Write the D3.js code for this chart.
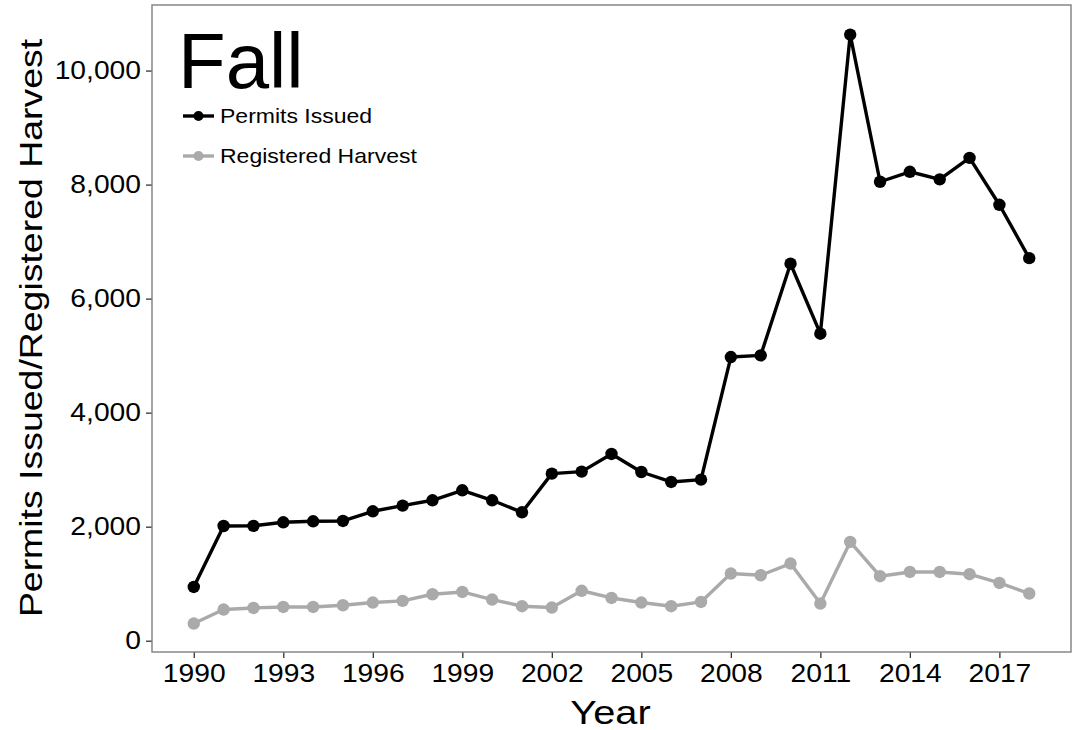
<!DOCTYPE html>
<html>
<head>
<meta charset="utf-8">
<script src="https://cdn.jsdelivr.net/npm/d3@7"></script>
<style>
  body { margin: 0; background: #fff; }
  text { font-family: "Liberation Sans", Arial, sans-serif; fill: #000; }
</style>
</head>
<body>
<div id="chart"></div>
<script>
// data
const years = d3.range(1990, 2019);
const permitsIssued = [943, 2012, 2015, 2077, 2095, 2100, 2270, 2370, 2463, 2638,
  2463, 2252, 2930, 2966, 3275, 2959, 2784, 2826, 4975, 5004,
  6612, 5385, 10631, 8050, 8225, 8092, 8468, 7646, 6710];
const registeredHarvest = [301, 547, 575, 592, 592, 622, 670, 698, 815, 855,
  722, 605, 582, 876, 750, 670, 605, 680, 1178, 1148,
  1353, 652, 1732, 1131, 1206, 1206, 1166, 1013, 828];
const xTicks = [1990, 1993, 1996, 1999, 2002, 2005, 2008, 2011, 2014, 2017];
const yTicks = [0, 2000, 4000, 6000, 8000, 10000];

const series = [
  { name: 'Permits Issued', values: permitsIssued, color: '#000000' },
  { name: 'Registered Harvest', values: registeredHarvest, color: '#aaaaaa' }
];

const width = 1075, height = 730;
const panel = { left: 152, right: 1071, top: 5, bottom: 652 };
// the original image is a bit wider than tall, so text gets stretched
const sx = 1.13;

const svg = d3.select('#chart').append('svg')
  .attr('width', width)
  .attr('height', height);

const x = d3.scaleLinear().domain([1988.6, 2019.4]).range([panel.left, panel.right]);
const y = d3.scaleLinear().domain([-198, 11150]).range([panel.bottom, panel.top]);

// axes
const xAxis = svg.append('g')
  .attr('transform', `translate(0,${panel.bottom})`)
  .call(d3.axisBottom(x).tickValues(xTicks).tickFormat(d3.format('d')).tickSize(6).tickPadding(6));
const yAxis = svg.append('g')
  .attr('transform', `translate(${panel.left},0)`)
  .call(d3.axisLeft(y).tickValues(yTicks).tickFormat(d3.format(',')).tickSize(6).tickPadding(5));

[xAxis, yAxis].forEach(g => {
  g.select('.domain').remove();
  g.selectAll('.tick line').attr('stroke', '#333').attr('stroke-width', 1.3);
  g.selectAll('.tick text').attr('font-size', 25).attr('fill', '#111')
    .style('font-family', '"Liberation Sans", Arial, sans-serif');
});
// stretch tick labels horizontally around their anchor
xAxis.selectAll('.tick text').attr('transform', `scale(${sx},1)`);
yAxis.selectAll('.tick text').each(function () {
  const t = d3.select(this);
  const tx = +t.attr('x');
  t.attr('transform', `translate(${tx},0) scale(${sx},1) translate(${-tx},0)`);
});

// panel border
svg.append('rect')
  .attr('x', panel.left).attr('y', panel.top)
  .attr('width', panel.right - panel.left).attr('height', panel.bottom - panel.top)
  .attr('fill', 'none').attr('stroke', '#7f7f7f').attr('stroke-width', 1.4);

// lines and points
const line = d3.line().x((d, i) => x(years[i])).y(d => y(d));

series.slice().reverse().forEach(s => {
  svg.append('path')
    .datum(s.values)
    .attr('d', line)
    .attr('fill', 'none')
    .attr('stroke', s.color)
    .attr('stroke-width', 3.4)
    .attr('stroke-linejoin', 'round');
  svg.selectAll(null)
    .data(s.values)
    .enter()
    .append('circle')
    .attr('cx', (d, i) => x(years[i]))
    .attr('cy', d => y(d))
    .attr('r', 6.2)
    .attr('fill', s.color);
});

// title inside panel
svg.append('text')
  .attr('x', 178).attr('y', 88)
  .attr('font-size', 78)
  .text('Fall');

// legend
const legend = svg.append('g');
series.forEach((s, i) => {
  const cy = 116 + i * 40;
  legend.append('line')
    .attr('x1', 183).attr('x2', 214).attr('y1', cy).attr('y2', cy)
    .attr('stroke', s.color).attr('stroke-width', 3.4);
  legend.append('circle')
    .attr('cx', 198.5).attr('cy', cy).attr('r', 5).attr('fill', s.color);
  legend.append('text')
    .attr('transform', `translate(220,${cy}) scale(1.15,1)`)
    .attr('dy', '0.36em')
    .attr('font-size', 20)
    .text(s.name);
});

// axis titles
svg.append('text')
  .attr('transform', `translate(${(panel.left + panel.right) / 2 - 1},724) scale(1.17,1)`)
  .attr('text-anchor', 'middle')
  .attr('font-size', 34)
  .text('Year');

svg.append('text')
  .attr('transform', `translate(42,328) rotate(-90) scale(1.17,1)`)
  .attr('text-anchor', 'middle')
  .attr('font-size', 32)
  .text('Permits Issued/Registered Harvest');
</script>
</body>
</html>
